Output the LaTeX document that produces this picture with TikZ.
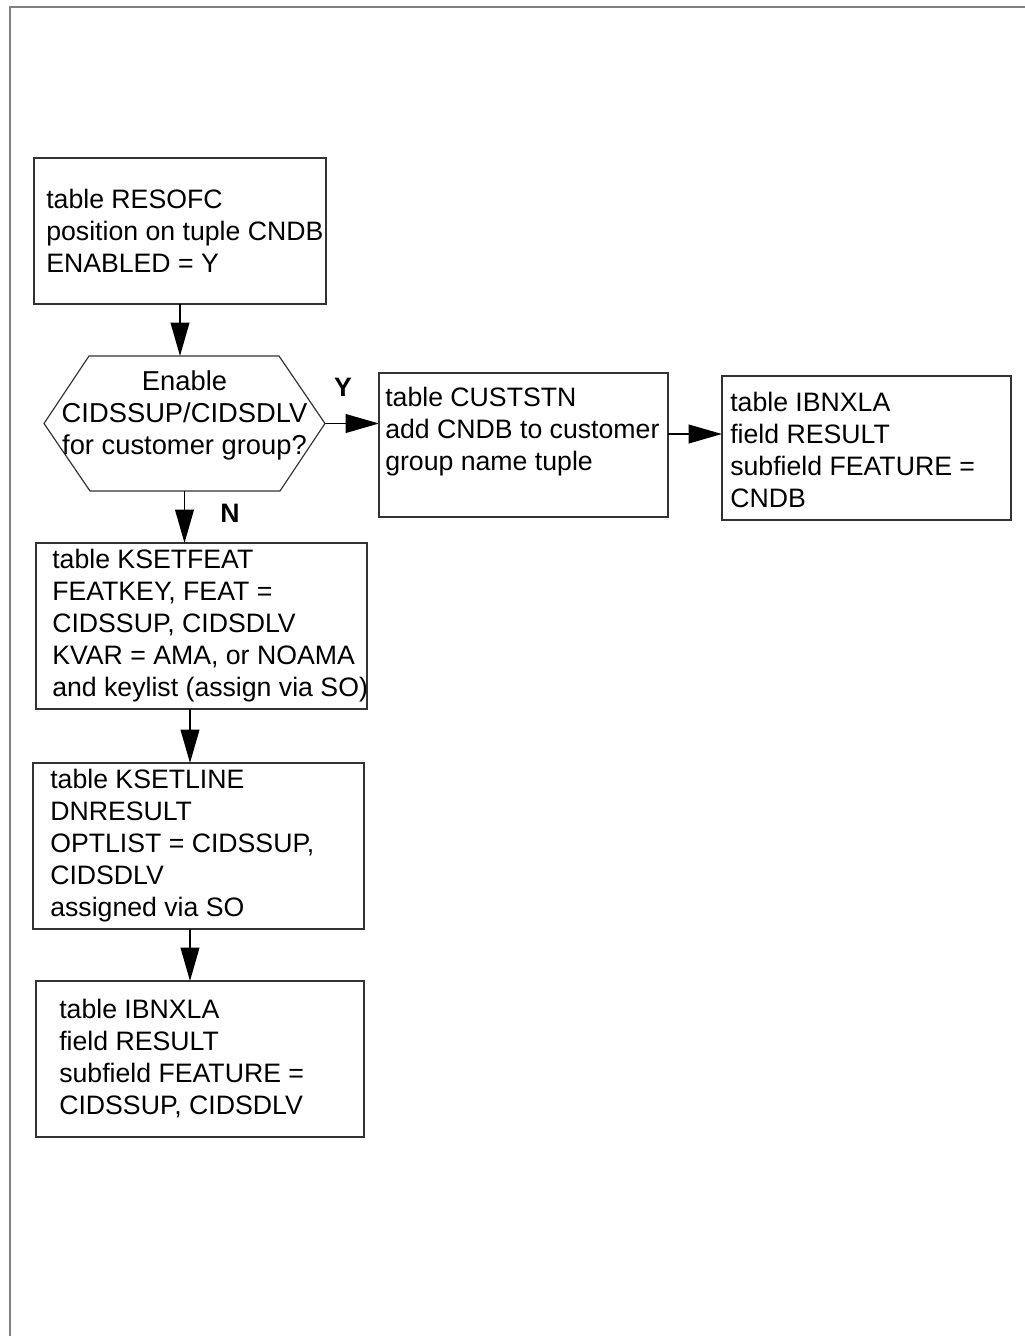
\documentclass[tikz,border=0pt]{standalone}
\usepackage{fontspec}
\setmainfont{Liberation Sans}
\usetikzlibrary{arrows.meta,calc}

\begin{document}
\begin{tikzpicture}[x=0.75pt,y=-0.75pt,
  stepbox/.style={draw=black!80,line width=0.9pt,rectangle,inner sep=0pt,outer sep=0pt,anchor=north west},
  boxtext/.style={anchor=west,align=left,inner sep=0pt,font=\fontsize{20}{24}\selectfont},
  flow/.style={line width=1.3pt,-{Triangle[length=25pt,width=14pt]}},
  yn/.style={font=\fontsize{20}{22}\selectfont\bfseries,inner sep=0pt}]

  % page area and outer frame
  \useasboundingbox (0,0) rectangle (1025,1336);
  \draw[gray,line width=1pt] (10,1340) -- (10,7) -- (1030,7);

  % process boxes
  \node[stepbox,minimum width=292*0.75pt,minimum height=146*0.75pt] (b1) at (34,158) {};
  \node[stepbox,minimum width=289*0.75pt,minimum height=144*0.75pt] (b2) at (379,373) {};
  \node[stepbox,minimum width=289*0.75pt,minimum height=144*0.75pt] (b3) at (722,376) {};
  \node[stepbox,minimum width=331*0.75pt,minimum height=166*0.75pt] (b4) at (36,543) {};
  \node[stepbox,minimum width=331*0.75pt,minimum height=166*0.75pt] (b5) at (33,763) {};
  \node[stepbox,minimum width=328*0.75pt,minimum height=156*0.75pt] (b6) at (36,981) {};

  % decision hexagon
  \node[rectangle,inner sep=0pt,outer sep=0pt,anchor=north west,
        minimum width=281*0.75pt,minimum height=135*0.75pt] (hex) at (44,356) {};
  \draw[black!80,line width=0.9pt]
    (hex.west) -- ($(hex.north west)+(45,0)$) -- ($(hex.north east)+(-46,0)$)
    -- (hex.east) -- ($(hex.south east)+(-45,0)$) -- ($(hex.south west)+(46,0)$) -- cycle;

  % texts
  \node[boxtext] (t1) at ($(b1.west)+(12,0)$)
    {table RESOFC\\position on tuple CNDB\\ENABLED = Y};
  \node[align=center,inner sep=0pt,font=\fontsize{20.5}{24}\selectfont] (th) at ($(hex.center)+(0,-8)$)
    {Enable\\CIDSSUP/CIDSDLV\\for customer group?};
  \node[boxtext] (t2) at ($(b2.west)+(6,-13)$)
    {table CUSTSTN\\add CNDB to customer\\group name tuple};
  \node[boxtext] (t3) at ($(b3.west)+(8,2)$)
    {table IBNXLA\\field RESULT\\subfield FEATURE =\\CNDB};
  \node[boxtext] (t4) at ($(b4.west)+(16,0)$)
    {table KSETFEAT\\FEATKEY, FEAT =\\CIDSSUP, CIDSDLV\\KVAR = AMA, or NOAMA\\and keylist (assign via SO)};
  \node[boxtext] (t5) at ($(b5.west)+(17,0)$)
    {table KSETLINE\\DNRESULT\\OPTLIST = CIDSSUP,\\CIDSDLV\\assigned via SO};
  \node[boxtext] (t6) at ($(b6.west)+(23,0)$)
    {table IBNXLA\\field RESULT\\subfield FEATURE =\\CIDSSUP, CIDSDLV};

  % branch labels
  \node[yn] (ly) at (343,387) {Y};
  \node[yn] (ln) at (230,513) {N};

  % connector start points
  \coordinate (p2) at ($(b2.east)+(0,-11)$);
  \coordinate (p4) at ($(b4.south)+(-11.5,0)$);
  \coordinate (p5) at ($(b5.south)+(-8.5,0)$);

  % connectors
  \draw[flow] (b1.south) -- (b1.south |- hex.north);
  \draw[flow] (hex.east) -- (hex.east -| b2.west);
  \draw[flow] (p2) -- (p2 -| b3.west);
  \draw[flow] (hex.south) -- (hex.south |- b4.north);
  \draw[flow] (p4) -- (p4 |- b5.north);
  \draw[flow] (p5) -- (p5 |- b6.north);
\end{tikzpicture}
\end{document}
